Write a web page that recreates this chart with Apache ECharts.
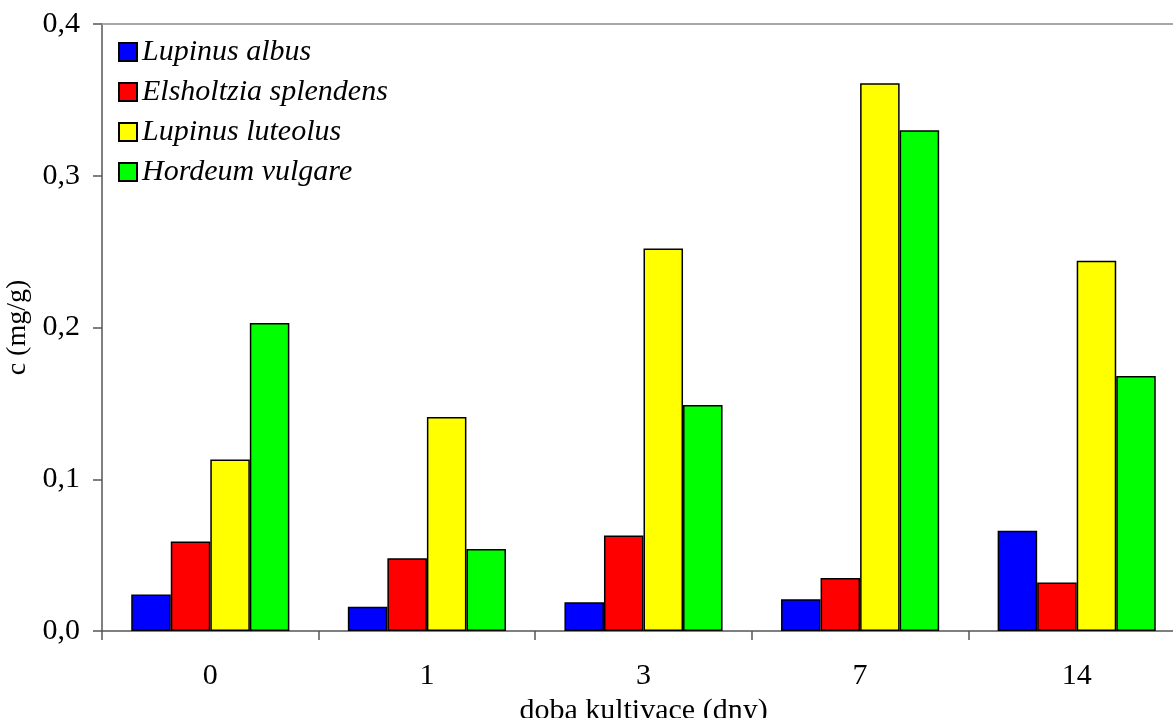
<!DOCTYPE html>
<html>
<head>
<meta charset="utf-8">
<script src="https://cdn.jsdelivr.net/npm/echarts@6/dist/echarts.min.js"></script>
<style>
html,body{margin:0;padding:0;background:#fff;}
#main{width:1173px;height:718px;}
</style>
</head>
<body>
<div id="main"></div>
<script>
var categories = ['0', '1', '3', '7', '14'];
var seriesNames = ['Lupinus albus', 'Elsholtzia splendens', 'Lupinus luteolus', 'Hordeum vulgare'];
var lupinusAlbus = [0.024, 0.016, 0.019, 0.021, 0.066];
var elsholtziaSplendens = [0.059, 0.048, 0.063, 0.035, 0.032];
var lupinusLuteolus = [0.113, 0.141, 0.252, 0.361, 0.244];
var hordeumVulgare = [0.203, 0.054, 0.149, 0.330, 0.168];
var colors = ['#0000ff', '#ff0000', '#ffff00', '#00ff00'];

var seriesData = [lupinusAlbus, elsholtziaSplendens, lupinusLuteolus, hordeumVulgare];
var font = '"Liberation Serif", "Times New Roman", serif';

var chart = echarts.init(document.getElementById('main'), null, {renderer: 'canvas'});
chart.setOption({
  backgroundColor: '#ffffff',
  animation: false,
  textStyle: {fontFamily: font},
  grid: {left: 102, top: 24, width: 1083, height: 607, containLabel: false, outerBoundsMode: 'none'},
  legend: {
    orient: 'vertical',
    left: 113,
    top: 32,
    itemWidth: 18,
    itemHeight: 18,
    itemGap: 10,
    icon: 'rect',
    data: seriesNames,
    textStyle: {fontFamily: font, fontStyle: 'italic', fontSize: 30, color: '#000', lineHeight: 30}
  },
  xAxis: [{
    type: 'category',
    data: categories,
    name: 'doba kultivace (dny)',
    nameLocation: 'middle',
    nameGap: 58,
    nameTextStyle: {fontFamily: font, fontSize: 30, color: '#000'},
    axisLine: {lineStyle: {color: '#555', width: 1.5}},
    axisTick: {show: true, length: 9, lineStyle: {color: '#555', width: 1.5}},
    axisLabel: {fontFamily: font, fontSize: 30, color: '#000', margin: 30}
  }, {
    type: 'category',
    data: categories,
    position: 'top',
    axisLine: {show: true, lineStyle: {color: '#a8a8a8', width: 2}},
    axisTick: {show: false},
    axisLabel: {show: false}
  }],
  yAxis: {
    type: 'value',
    min: 0,
    max: 0.4,
    interval: 0.1,
    name: 'c (mg/g)',
    nameLocation: 'middle',
    nameGap: 61,
    nameTextStyle: {fontFamily: font, fontSize: 28, color: '#000'},
    axisLine: {show: true, lineStyle: {color: '#555', width: 1.5}},
    axisTick: {show: true, length: 9, lineStyle: {color: '#555', width: 1.5}},
    splitLine: {show: false},
    axisLabel: {
      fontFamily: font, fontSize: 30, color: '#000', margin: 22,
      formatter: function (v) { return v.toFixed(1).replace('.', ','); }
    }
  },
  series: seriesNames.map(function (n, i) {
    return {
      name: n,
      type: 'bar',
      data: seriesData[i],
      barGap: '0%',
      barCategoryGap: '27%',
      itemStyle: {color: colors[i], borderColor: '#000', borderWidth: 1.5}
    };
  })
});
</script>
</body>
</html>
